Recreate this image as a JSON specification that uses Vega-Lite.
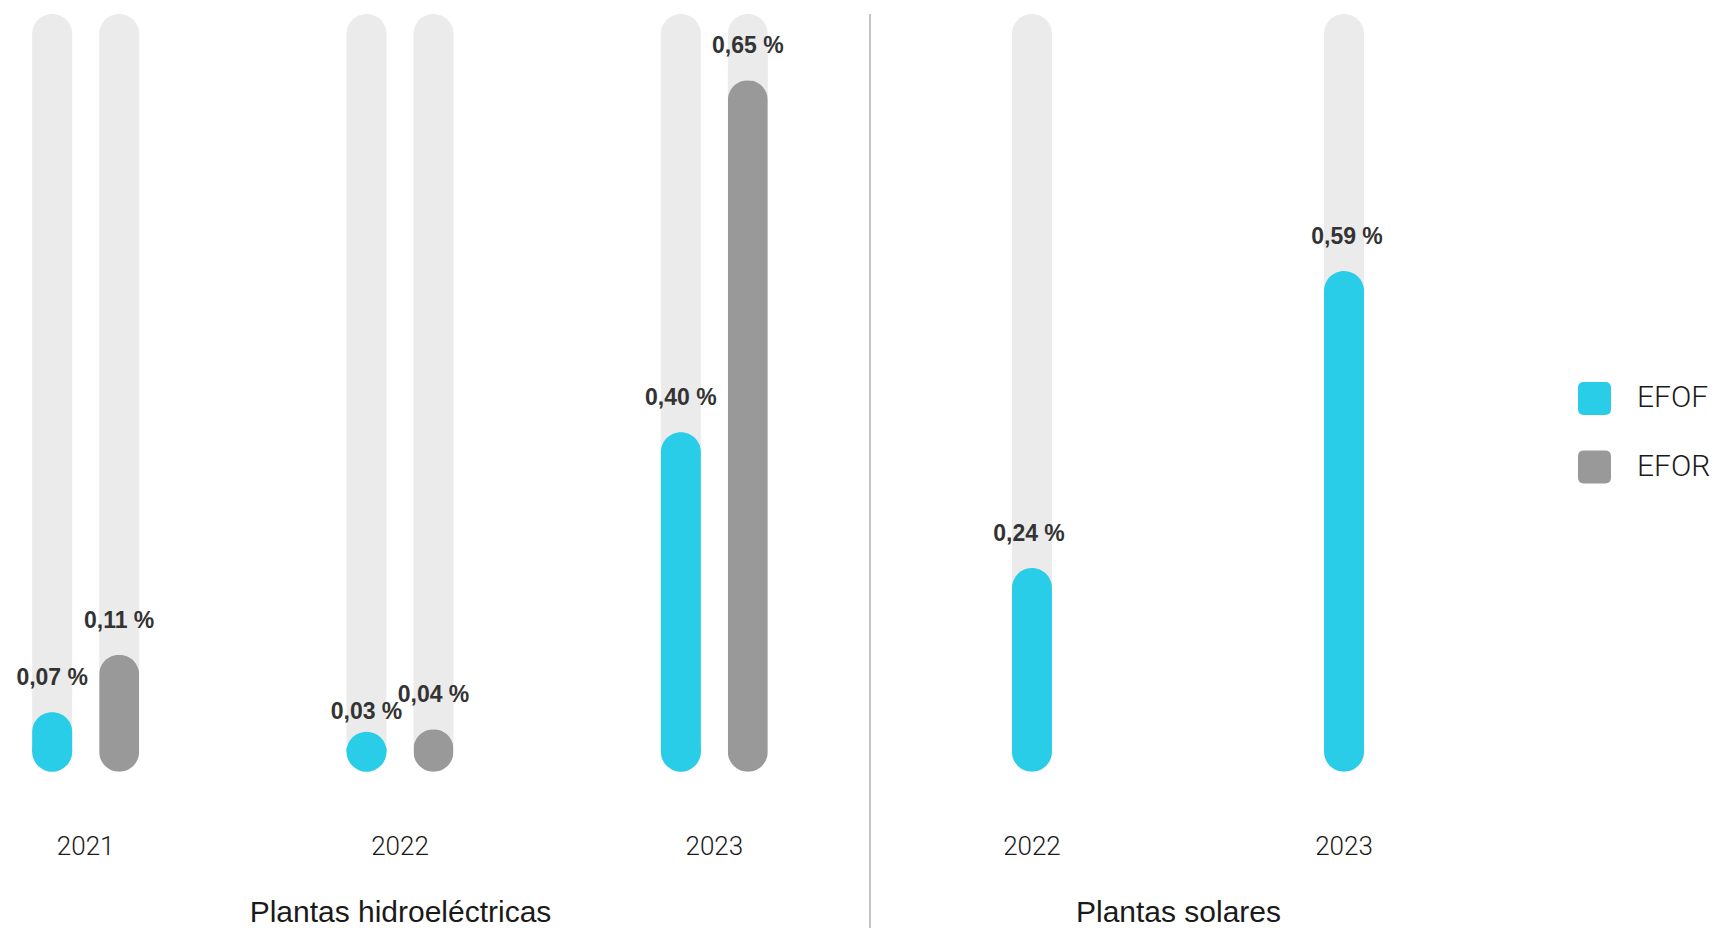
{
  "$schema": "https://vega.github.io/schema/vega-lite/v6.json",
  "background": "white",
  "padding": {"left": 0, "top": 13, "right": 0, "bottom": 0},
  "autosize": {"type": "pad"},
  "data": {
    "values": [
      {"panel": "Plantas hidroeléctricas", "anio": "2021", "serie": "EFOF", "valor": 0.07},
      {"panel": "Plantas hidroeléctricas", "anio": "2021", "serie": "EFOR", "valor": 0.11},
      {"panel": "Plantas hidroeléctricas", "anio": "2022", "serie": "EFOF", "valor": 0.03},
      {"panel": "Plantas hidroeléctricas", "anio": "2022", "serie": "EFOR", "valor": 0.04},
      {"panel": "Plantas hidroeléctricas", "anio": "2023", "serie": "EFOF", "valor": 0.40},
      {"panel": "Plantas hidroeléctricas", "anio": "2023", "serie": "EFOR", "valor": 0.65},
      {"panel": "Plantas solares", "anio": "2022", "serie": "EFOF", "valor": 0.24},
      {"panel": "Plantas solares", "anio": "2023", "serie": "EFOF", "valor": 0.59}
    ]
  },
  "transform": [
    {"calculate": "replace(format(datum.valor, '.2f'), '.', ',') + ' %'", "as": "etiqueta"}
  ],
  "spacing": 70,
  "bounds": "flush",
  "hconcat": [
    {
      "width": 800,
      "height": 757.7,
      "transform": [{"filter": "datum.panel === 'Plantas hidroeléctricas'"}],
      "encoding": {
        "x": {
          "field": "anio", "type": "nominal", "sort": ["2021", "2022", "2023"],
          "scale": {"domain": ["2021", "2022", "2023"], "paddingInner": 0.455, "paddingOuter": 0},
          "axis": {"title": "Plantas hidroeléctricas"}
        },
        "xOffset": {
          "field": "serie", "type": "nominal",
          "scale": {"domain": ["EFOF", "EFOR"], "paddingInner": 0, "paddingOuter": 0.279}
        }
      },
      "layer": [
        {
          "mark": {"type": "bar", "width": 40, "cornerRadius": 20, "color": "#ebebeb"},
          "encoding": {
            "y": {"datum": 1, "type": "quantitative", "scale": {"domain": [0, 1]}, "axis": null},
            "y2": {"datum": 0}
          }
        },
        {
          "transform": [{"filter": "datum.serie === 'EFOF'"}],
          "mark": {"type": "bar", "width": 40, "cornerRadiusTopLeft": 20, "cornerRadiusTopRight": 20, "y2Offset": -20},
          "encoding": {
            "y": {"field": "valor", "type": "quantitative", "stack": null, "scale": {"domain": [0, 0.893]}, "axis": null},
            "y2": {"datum": 0},
            "color": {
              "field": "serie", "type": "nominal",
              "scale": {"domain": ["EFOF", "EFOR"], "range": ["#29cde8", "#999999"]},
              "legend": {
                "title": null, "orient": "none", "legendX": 1578, "legendY": 368,
                "symbolType": "M-0.64,-1H0.64Q1,-1,1,-0.64V0.64Q1,1,0.64,1H-0.64Q-1,1,-1,0.64V-0.64Q-1,-1,-0.64,-1Z",
                "symbolSize": 1089, "symbolStrokeWidth": 0, "symbolOpacity": 1,
                "labelFont": "Roboto", "labelFontWeight": 300, "labelFontSize": 30, "labelColor": "#1a1a1a",
                "labelOffset": 26, "rowPadding": 35.5
              }
            }
          }
        },
        {
          "transform": [{"filter": "datum.serie === 'EFOF'"}],
          "mark": {"type": "point", "shape": "circle", "filled": true, "opacity": 1, "size": 1600, "yOffset": -20, "strokeWidth": 0},
          "encoding": {
            "y": {"datum": 0, "type": "quantitative", "scale": {"domain": [0, 0.893]}, "axis": null},
            "color": {"field": "serie", "type": "nominal", "scale": {"domain": ["EFOF", "EFOR"], "range": ["#29cde8", "#999999"]}}
          }
        },
        {
          "transform": [{"filter": "datum.serie === 'EFOR'"}],
          "mark": {"type": "bar", "width": 40, "cornerRadius": 20},
          "encoding": {
            "y": {"field": "valor", "type": "quantitative", "scale": {"domain": [0, 0.7123]}, "axis": null},
            "color": {"field": "serie", "type": "nominal", "scale": {"domain": ["EFOF", "EFOR"], "range": ["#29cde8", "#999999"]}}
          }
        },
        {
          "transform": [{"filter": "datum.serie === 'EFOF'"}],
          "mark": {"type": "text", "font": "Liberation Sans", "fontWeight": "bold", "fontSize": 23, "color": "#333333", "baseline": "middle", "dy": -34},
          "encoding": {
            "y": {"field": "valor", "type": "quantitative", "scale": {"domain": [0, 0.893]}, "axis": null},
            "text": {"field": "etiqueta"}
          }
        },
        {
          "transform": [{"filter": "datum.serie === 'EFOR'"}],
          "mark": {"type": "text", "font": "Liberation Sans", "fontWeight": "bold", "fontSize": 23, "color": "#333333", "baseline": "middle", "dy": -34},
          "encoding": {
            "y": {"field": "valor", "type": "quantitative", "scale": {"domain": [0, 0.7123]}, "axis": null},
            "text": {"field": "etiqueta"}
          }
        }
      ],
      "resolve": {"scale": {"y": "independent"}}
    },
    {
      "width": 636,
      "height": 757.7,
      "transform": [{"filter": "datum.panel === 'Plantas solares'"}],
      "layer": [
        {
          "mark": {"type": "bar", "width": 40, "cornerRadius": 20, "color": "#ebebeb"},
          "encoding": {
            "x": {
              "field": "anio", "type": "nominal",
              "scale": {"domain": ["2022", "2023"], "paddingInner": 0, "paddingOuter": 0.019},
              "axis": {"title": "Plantas solares", "titleX": 308}
            },
            "y": {"datum": 1, "type": "quantitative", "scale": {"domain": [0, 1]}, "axis": null},
            "y2": {"datum": 0}
          }
        },
        {
          "mark": {"type": "bar", "width": 40, "cornerRadius": 20},
          "encoding": {
            "x": {
              "field": "anio", "type": "nominal",
              "scale": {"domain": ["2022", "2023"], "paddingInner": 0, "paddingOuter": 0.019},
              "axis": null
            },
            "y": {"field": "valor", "type": "quantitative", "scale": {"domain": [0, 0.893]}, "axis": null},
            "color": {"field": "serie", "type": "nominal", "scale": {"domain": ["EFOF", "EFOR"], "range": ["#29cde8", "#999999"]}}
          }
        },
        {
          "mark": {"type": "text", "font": "Liberation Sans", "fontWeight": "bold", "fontSize": 23, "color": "#333333", "baseline": "middle", "dy": -34},
          "encoding": {
            "x": {
              "field": "anio", "type": "nominal",
              "scale": {"domain": ["2022", "2023"], "paddingInner": 0, "paddingOuter": 0.019},
              "axis": null
            },
            "y": {"field": "valor", "type": "quantitative", "scale": {"domain": [0, 0.893]}, "axis": null},
            "text": {"field": "etiqueta"}
          }
        },
        {
          "mark": {"type": "rule", "color": "#c4c4c4", "strokeWidth": 2},
          "encoding": {
            "x": {"datum": 0, "type": "quantitative", "scale": {"domain": [0, 1]}, "axis": null},
            "y": {"datum": 1, "type": "quantitative", "scale": {"domain": [0, 1]}, "axis": null},
            "y2": {"datum": -0.207}
          }
        }
      ],
      "resolve": {"scale": {"x": "independent", "y": "independent"}}
    }
  ],
  "config": {
    "view": {"stroke": null},
    "axisX": {
      "domain": false, "ticks": false, "grid": false, "labelAngle": 0,
      "labelFont": "Roboto", "labelFontWeight": 300, "labelFontSize": 26, "labelColor": "#1a1a1a", "labelPadding": 62,
      "titleFont": "Liberation Sans", "titleFontWeight": "normal", "titleFontSize": 30, "titleColor": "#1a1a1a", "titlePadding": 38
    }
  }
}
